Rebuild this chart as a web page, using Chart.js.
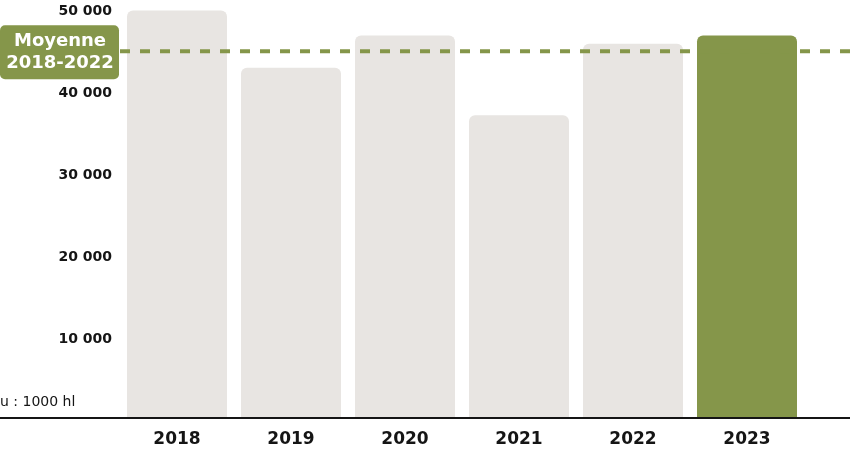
<!DOCTYPE html>
<html lang="fr">
<head>
    <meta charset="UTF-8">
    <title>Production 2018-2023</title>
    <script src="https://cdn.jsdelivr.net/npm/chart.js"></script>
    <style>
        html, body { margin: 0; padding: 0; background: #fff; }
        .chart-box { width: 850px; height: 452px; position: relative; }
    </style>
</head>
<body>
    <div class="chart-box">
        <canvas id="prodChart"></canvas>
    </div>

    <script>
        // Data (u : 1000 hl)
        const years = ['2018', '2019', '2020', '2021', '2022', '2023'];
        const volumes = [49450, 42500, 46400, 36700, 45400, 46400];
        const average = 44500; // moyenne 2018-2022
        const yTicks = [0, 10000, 20000, 30000, 40000, 50000];

        const grey = '#e8e5e2';
        const green = '#85964a';
        const ink = '#151515';
        const font = '"DejaVu Sans", sans-serif';

        const fmt = v => String(v).replace(/\B(?=(\d{3})+(?!\d))/g, ' ');

        // average line, label box, full width axis line, unit note
        const overlay = {
            id: 'overlay',
            afterDatasetsDraw(chart) {
                const ctx = chart.ctx;
                const area = chart.chartArea;
                const y = chart.scales.y.getPixelForValue(average);

                ctx.save();
                ctx.strokeStyle = green;
                ctx.lineWidth = 4;
                ctx.setLineDash([10, 10]);
                ctx.beginPath();
                ctx.moveTo(0, y);
                ctx.lineTo(chart.width, y);
                ctx.stroke();
                ctx.setLineDash([]);

                // label box
                ctx.fillStyle = green;
                ctx.beginPath();
                ctx.roundRect(0, y - 26, 119, 54, 5);
                ctx.fill();
                ctx.fillStyle = '#fff';
                ctx.font = 'bold 18px ' + font;
                ctx.textAlign = 'center';
                ctx.textBaseline = 'middle';
                ctx.fillText('Moyenne', 60, y - 10);
                ctx.fillText('2018-2022', 60, y + 12);

                // axis line
                ctx.strokeStyle = ink;
                ctx.lineWidth = 2;
                ctx.beginPath();
                ctx.moveTo(0, area.bottom + 1);
                ctx.lineTo(chart.width, area.bottom + 1);
                ctx.stroke();

                // unit
                ctx.fillStyle = ink;
                ctx.font = '14px ' + font;
                ctx.textAlign = 'left';
                ctx.fillText('u : 1000 hl', 0, area.bottom - 15);
                ctx.restore();
            }
        };

        new Chart(document.getElementById('prodChart'), {
            type: 'bar',
            data: {
                labels: years,
                datasets: [{
                    data: volumes,
                    backgroundColor: years.map((y, i) => i === years.length - 1 ? green : grey),
                    borderRadius: { topLeft: 6, topRight: 6, bottomLeft: 0, bottomRight: 0 },
                    borderSkipped: 'bottom',
                    categoryPercentage: 1,
                    barPercentage: 100 / 114
                }]
            },
            options: {
                responsive: true,
                maintainAspectRatio: false,
                animation: false,
                layout: { padding: { left: 0, right: 46, top: 6, bottom: 0 } },
                plugins: {
                    legend: { display: false },
                    tooltip: { enabled: false }
                },
                scales: {
                    x: {
                        grid: { display: false, drawTicks: false },
                        border: { display: false },
                        ticks: {
                            color: ink,
                            padding: 12,
                            font: { family: font, size: 17, weight: 'bold' }
                        },
                        afterFit: s => { s.height = 35; }
                    },
                    y: {
                        min: 0,
                        max: 50000,
                        grid: { display: false, drawTicks: false },
                        border: { display: false },
                        afterBuildTicks: s => { s.ticks = yTicks.map(v => ({ value: v })); },
                        afterFit: s => {
                            s.width = 120;
                            s.paddingTop = 0;
                            s.paddingBottom = 0;
                        },
                        ticks: {
                            color: ink,
                            padding: 8,
                            labelOffset: 5,
                            font: { family: font, size: 14, weight: 'bold' },
                            callback: v => v === 0 ? '' : fmt(v)
                        }
                    }
                }
            },
            plugins: [overlay]
        });
    </script>
</body>
</html>
